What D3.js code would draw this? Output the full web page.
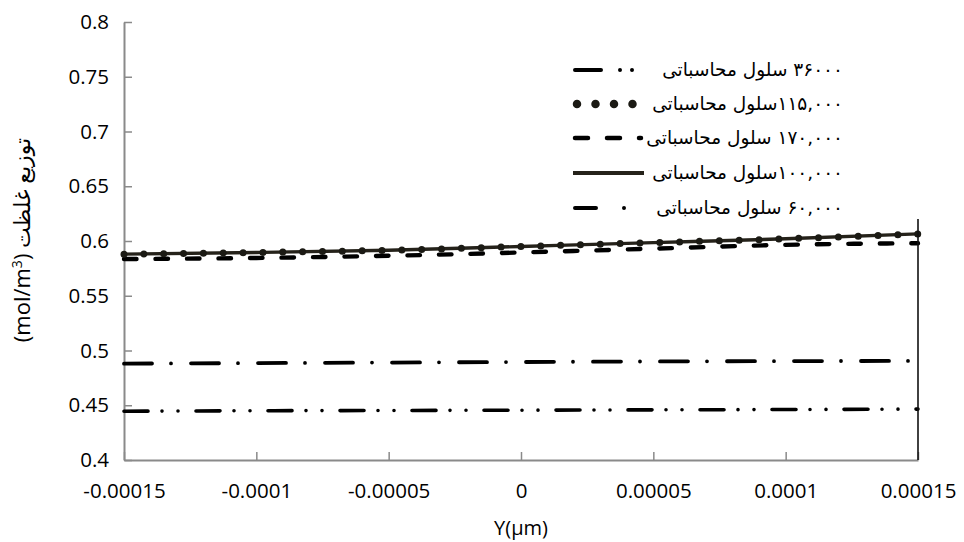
<!DOCTYPE html>
<html><head><meta charset="utf-8">
<script src="https://cdn.jsdelivr.net/npm/d3@7/dist/d3.min.js"></script>
<style>
html,body{margin:0;padding:0;background:#fff;}
svg{display:block;}
</style></head>
<body><svg id="c" width="964" height="542"></svg>
<script>
// ---- data ----
const xPoints = [-0.00015, -0.0001, -0.00005, 0, 0.00005, 0.0001, 0.00015];
const xTickValues = [-0.00015, -0.0001, -0.00005, 0, 0.00005, 0.0001, 0.00015];
const xTickLabels = ["-0.00015", "-0.0001", "-0.00005", "0", "0.00005", "0.0001", "0.00015"];
const yTickValues = [0.4, 0.45, 0.5, 0.55, 0.6, 0.65, 0.7, 0.75, 0.8];
const yTickLabels = ["0.4", "0.45", "0.5", "0.55", "0.6", "0.65", "0.7", "0.75", "0.8"];
const cells36000  = [0.4445, 0.4450, 0.4452, 0.4455, 0.4458, 0.4461, 0.4465];
const cells115000 = [0.5880, 0.5895, 0.5915, 0.5950, 0.5985, 0.6020, 0.6065];
const cells170000 = [0.5835, 0.5845, 0.5865, 0.5895, 0.5930, 0.5965, 0.5980];
const cells100000 = [0.5880, 0.5895, 0.5915, 0.5950, 0.5985, 0.6020, 0.6065];
const cells60000  = [0.4880, 0.4885, 0.4890, 0.4895, 0.4900, 0.4903, 0.4905];
const edgeX = [0.00015, 0.00015];
const edgeY = [0.4, 0.62];
const legendLabels = [
  "۳۶۰۰۰ سلول محاسباتی",
  "۱۱۵,۰۰۰سلول محاسباتی",
  "۱۷۰,۰۰۰ سلول محاسباتی",
  "۱۰۰,۰۰۰سلول محاسباتی",
  "۶۰,۰۰۰ سلول محاسباتی"
];
const xTitle = "Y(μm)";
const yTitleLatin = "(mol/m";
const yTitleSup = "3";
const yTitlePersian = ") توزیع غلظت";

// ---- styles ----
const styles = [
  {data: cells36000,  color: "#000", width: 3.6, dash: "24 14 0 16 0 18"},
  {data: cells115000, color: "#1b1a14", width: 7, dash: "0 19.85"},
  {data: cells170000, color: "#000", width: 4.4, dash: "12.5 19"},
  {data: cells100000, color: "#25221a", width: 3.4, dash: null},
  {data: cells60000,  color: "#000", width: 3.8, dash: "28 19 0 20"}
];
const legendSpec = [
  {x1: 575, x2: 645, w: 4,   cap: "round", dash: "26 19 0 12 0 40"},
  {x1: 577, x2: 645, w: 8.5, cap: "round", dash: "0 18.5"},
  {x1: 575, x2: 641, w: 4.5, cap: "round", dash: "13 19"},
  {x1: 573, x2: 644, w: 4,   cap: "butt",  dash: null},
  {x1: 575, x2: 645, w: 4,   cap: "round", dash: "21 28 0 40"}
];

const svg = d3.select("#c");
const m = {l: 124, r: 918, t: 22, b: 460};
const x = d3.scaleLinear().domain([-0.00015, 0.00015]).range([m.l, m.r]);
const y = d3.scaleLinear().domain([0.4, 0.8]).range([m.b, m.t]);
const font = "'Open Sans', 'DejaVu Sans', sans-serif";
const axisColor = "#8a8a8a";

// axes
const gx = svg.append("g").attr("transform", `translate(0,${m.b})`)
  .call(d3.axisBottom(x).tickValues(xTickValues).tickSizeInner(-8).tickSizeOuter(0)
    .tickPadding(23).tickFormat((d, i) => xTickLabels[i]));
const gy = svg.append("g").attr("transform", `translate(${m.l},0)`)
  .call(d3.axisLeft(y).tickValues(yTickValues).tickSizeInner(-8).tickSizeOuter(0)
    .tickPadding(15).tickFormat((d, i) => yTickLabels[i]));
[gx, gy].forEach(g => {
  g.select(".domain").attr("stroke", axisColor).attr("stroke-width", 2);
  g.selectAll(".tick line").attr("stroke", axisColor).attr("stroke-width", 1.5);
  g.selectAll(".tick text").attr("fill", "#000").style("font-family", font).style("font-size", "20.5px");
});

// series
const line = d3.line().x((d, i) => x(xPoints[i])).y(d => y(d)).curve(d3.curveMonotoneX);
const order = [2, 4, 0, 3, 1];
order.forEach(k => {
  const s = styles[k];
  svg.append("path").datum(s.data).attr("d", line)
    .attr("fill", "none").attr("stroke", s.color).attr("stroke-width", s.width)
    .attr("stroke-linecap", "round")
    .attr("stroke-dasharray", s.dash);
});

// edge line
svg.append("path").datum(edgeY)
  .attr("d", d3.line().x((d, i) => x(edgeX[i])).y(d => y(d)))
  .attr("stroke", "#111").attr("stroke-width", 1.6).attr("fill", "none");

// legend
const legY = [70, 104, 138, 173, 208];
legendLabels.forEach((t, i) => {
  const s = styles[i], L = legendSpec[i];
  svg.append("line").attr("x1", L.x1).attr("x2", L.x2).attr("y1", legY[i]).attr("y2", legY[i])
    .attr("stroke", s.color).attr("stroke-width", L.w)
    .attr("stroke-linecap", L.cap)
    .attr("stroke-dasharray", L.dash);
  svg.append("text").attr("x", 843).attr("y", legY[i]).attr("dy", "0.35em")
    .attr("direction", "rtl").attr("text-anchor", "start")
    .style("font-family", "'DejaVu Sans', sans-serif").style("font-size", "18.5px")
    .text(t);
});

// titles
svg.append("text").attr("x", x(0)).attr("y", 535)
  .attr("text-anchor", "middle").style("font-family", font).style("font-size", "20px")
  .text(xTitle);
const yt = svg.append("text").attr("transform", "translate(30,240) rotate(-90)")
  .attr("text-anchor", "middle").style("font-family", font).style("font-size", "22px");
yt.append("tspan").text(yTitleLatin);
yt.append("tspan").attr("dy", -8).style("font-size", "14px").text(yTitleSup);
yt.append("tspan").attr("dy", 8).text(yTitlePersian);
</script></body></html>
